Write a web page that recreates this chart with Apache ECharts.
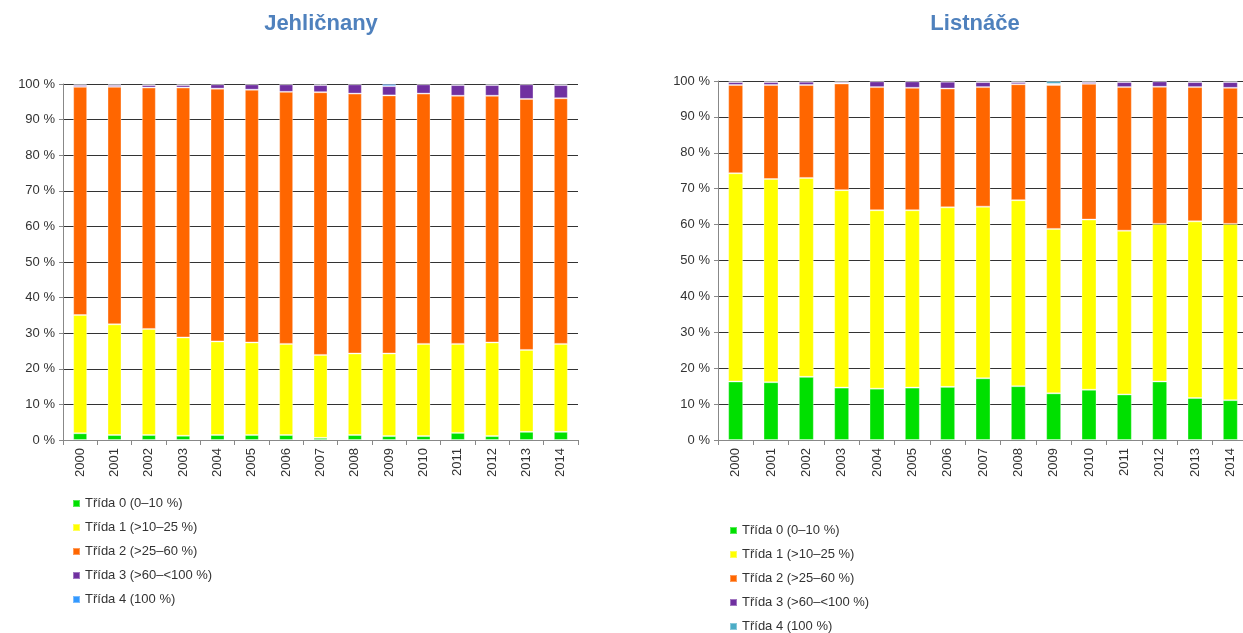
<!DOCTYPE html>
<html>
<head>
<meta charset="utf-8">
<script src="https://cdn.jsdelivr.net/npm/echarts@6/dist/echarts.min.js"></script>
<style>
  html, body { margin: 0; padding: 0; background: #fff; overflow: hidden; }
  #wrap { position: relative; width: 1243px; height: 633px; overflow: hidden; }
  #left { position: absolute; left: 0; top: 0; width: 621px; height: 633px; }
  #right { position: absolute; left: 621px; top: 0; width: 640px; height: 680px; }
</style>
</head>
<body>
<div id="wrap">
  <div id="left"></div>
  <div id="right"></div>
</div>
<script>
// roky
const years = ["2000", "2001", "2002", "2003", "2004", "2005", "2006", "2007",
  "2008", "2009", "2010", "2011", "2012", "2013", "2014"];

const classNames = ["Třída 0 (0–10 %)", "Třída 1 (>10–25 %)", "Třída 2 (>25–60 %)",
  "Třída 3 (>60–<100 %)", "Třída 4 (100 %)"];

const yTicks = [0, 10, 20, 30, 40, 50, 60, 70, 80, 90, 100];

// Jehličnany (podíl stromů v %)
const conifer0 = [1.9, 1.4, 1.4, 1.2, 1.4, 1.4, 1.4, 0.6, 1.4, 1.1, 1.1, 2.0, 1.1, 2.3, 2.3];
const conifer1 = [33.2, 31.1, 29.8, 27.6, 26.3, 26.0, 25.6, 23.3, 22.9, 23.2, 25.9, 25.0, 26.3, 23.0, 24.7];
const conifer2 = [64.1, 66.7, 67.8, 70.2, 71.0, 71.0, 70.8, 73.8, 73.0, 72.5, 70.3, 69.7, 69.3, 70.5, 69.0];
const conifer3 = [0.5, 0.5, 0.7, 0.7, 1.2, 1.5, 2.1, 2.0, 2.6, 2.6, 2.6, 3.0, 3.0, 4.1, 3.7];
const conifer4 = [0.3, 0.3, 0.3, 0.3, 0.1, 0.1, 0.1, 0.3, 0.1, 0.6, 0.1, 0.3, 0.3, 0.1, 0.3];

// Listnáče
const broad0 = [16.3, 16.1, 17.6, 14.6, 14.3, 14.6, 14.8, 17.2, 15.0, 13.0, 14.0, 12.7, 16.3, 11.7, 11.1];
const broad1 = [58.0, 56.6, 55.4, 55.0, 49.7, 49.4, 50.0, 47.8, 51.8, 45.8, 47.4, 45.6, 43.9, 49.2, 49.1];
const broad2 = [24.6, 26.2, 25.9, 29.7, 34.3, 34.1, 33.1, 33.3, 32.3, 40.1, 37.8, 40.0, 38.2, 37.4, 37.9];
const broad3 = [0.8, 0.8, 0.9, 0.4, 1.6, 1.8, 1.9, 1.4, 0.6, 0.3, 0.5, 1.4, 1.5, 1.4, 1.6];
const broad4 = [0.3, 0.3, 0.2, 0.3, 0.1, 0.1, 0.2, 0.3, 0.3, 0.8, 0.3, 0.3, 0.1, 0.3, 0.3];

const FONT = "Liberation Sans, Arial, sans-serif";

function makeOption(cfg) {
  const series = cfg.data.map((vals, i) => ({
    name: classNames[i],
    type: "bar",
    stack: "all",
    barWidth: cfg.barWidth,
    data: vals,
    itemStyle: {
      color: cfg.colors[i],
      borderColor: "rgba(255,255,255,0.35)",
      borderWidth: 1
    }
  }));

  return {
    animation: false,
    textStyle: { fontFamily: FONT },
    title: {
      text: cfg.title,
      left: cfg.titleX,
      top: 8,
      textAlign: "center",
      textStyle: { color: "#4F81BD", fontSize: 22, fontWeight: "bold", fontFamily: FONT }
    },
    legend: {
      orient: "vertical",
      left: cfg.legendX,
      top: cfg.legendY,
      height: 160,
      itemWidth: 7,
      itemHeight: 7,
      itemGap: 11,
      icon: "rect",
      data: classNames,
      textStyle: { fontSize: 13, color: "#333", fontFamily: FONT }
    },
    grid: {
      left: cfg.grid.left,
      top: cfg.grid.top,
      width: cfg.grid.width,
      height: cfg.grid.height
    },
    xAxis: {
      type: "category",
      data: years,
      axisLine: { lineStyle: { color: "#888" } },
      axisTick: { show: true, length: 5, lineStyle: { color: "#888" } },
      axisLabel: { rotate: 90, fontSize: 13, color: "#333", margin: 8 }
    },
    yAxis: {
      type: "value",
      min: yTicks[0],
      max: yTicks[yTicks.length - 1],
      interval: 10,
      axisLine: { show: true, lineStyle: { color: "#888" } },
      axisTick: { show: true, length: 4, lineStyle: { color: "#888" } },
      axisLabel: { formatter: "{value} %", fontSize: 13, color: "#333", margin: 8 },
      splitLine: { lineStyle: { color: "#333", width: 1 } }
    },
    series
  };
}

const leftChart = echarts.init(document.getElementById("left"));
leftChart.setOption(makeOption({
  title: "Jehličnany",
  titleX: 316,
  legendX: 67,
  legendY: 492,
  grid: { left: 63, top: 84, width: 515, height: 356 },
  barWidth: 14,
  colors: ["#00E000", "#FFFF00", "#FF6600", "#7030A0", "#3399FF"],
  data: [conifer0, conifer1, conifer2, conifer3, conifer4]
}));

const rightChart = echarts.init(document.getElementById("right"));
rightChart.setOption(makeOption({
  title: "Listnáče",
  titleX: 349,
  legendX: 103,
  legendY: 519,
  grid: { left: 97, top: 81, width: 530, height: 359 },
  barWidth: 15,
  colors: ["#00E000", "#FFFF00", "#FF6600", "#7030A0", "#4BACC6"],
  data: [broad0, broad1, broad2, broad3, broad4]
}));
</script>
</body>
</html>
